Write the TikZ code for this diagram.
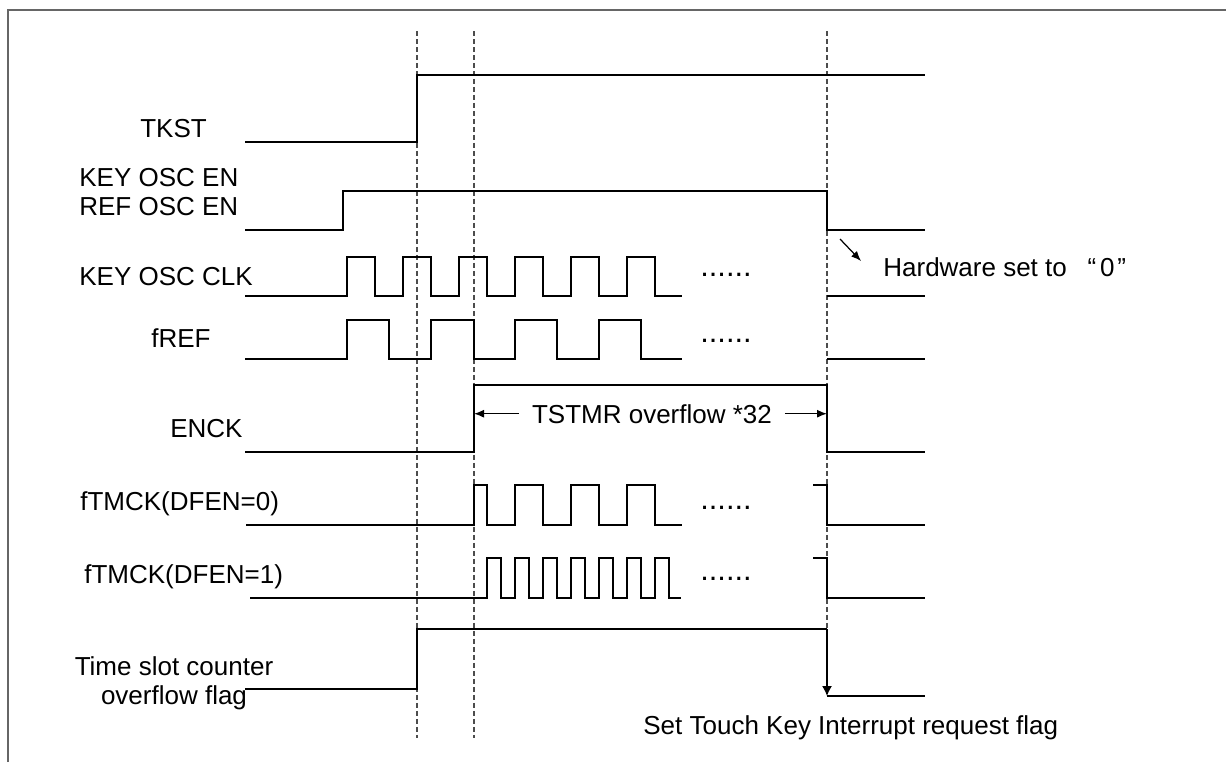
\documentclass[tikz,border=0pt]{standalone}
\usepackage{fontspec}
\setmainfont{Liberation Sans}
\usetikzlibrary{arrows.meta}
\tikzset{
  wave/.style={line width=0.8pt},
  guide/.style={line width=0.6pt, black!70, dash pattern=on 0.1cm off 0.06cm},
  frame/.style={line width=1.1pt, black!60},
  lbl/.style={inner sep=0pt, font=\fontsize{14.8}{16.5}\selectfont},
  dotsl/.style={inner sep=0pt, font=\fontsize{17.5}{20}\selectfont},
  arr/.style={line width=0.7pt, -{Latex[length=0.2cm,width=0.16cm]}},
}
\begin{document}
\begin{tikzpicture}[x=0.02cm,y=-0.02cm]
\useasboundingbox (0,0) rectangle (1226,762);
%边框
\draw[frame] (8,762)--(8,10)--(1226,10);
%虚线
\draw[guide] (417,31)--(417,738);
\draw[guide] (474,31)--(474,738);
\draw[guide] (827,31)--(827,690);
%信号名
\node[lbl,anchor=base west] (tkst) at (140,137) {TKST};
\node[lbl,anchor=north west,align=left] (oscen) at (79,168) {KEY OSC EN\\REF OSC EN};
\node[lbl,anchor=base west] (oscclk) at (79,285) {KEY OSC CLK};
\node[lbl,anchor=base west] (fref) at (151,347) {fREF};
\node[lbl,anchor=base west] (enck) at (170,437) {ENCK};
\node[lbl,anchor=base west] (tmck0) at (80,510) {fTMCK(DFEN=0)};
\node[lbl,anchor=base west] (tmck1) at (84,583) {fTMCK(DFEN=1)};
\node[lbl,anchor=north,align=center] (tsflag) at (174,656) {Time slot counter\\overflow flag};
%波形
\draw[wave] (245,142)--(417,142)--(417,75)--(925,75);
\draw[wave] (245,230)--(343,230)--(343,191)--(827,191)--(827,230)--(925,230);
\draw[wave] (245,296)--(347,296)--(347,257)--(375,257)--(375,296)--(403,296)--(403,257)--(431,257)--(431,296)
  --(459,296)--(459,257)--(487,257)--(487,296)--(515,296)--(515,257)--(543,257)--(543,296)
  --(571,296)--(571,257)--(599,257)--(599,296)--(627,296)--(627,257)--(655,257)--(655,296)--(682,296);
\draw[wave] (827,296)--(925,296);
\draw[wave] (245,359)--(347,359)--(347,320)--(389,320)--(389,359)--(431,359)--(431,320)--(474,320)--(474,359)
  --(515,359)--(515,320)--(557,320)--(557,359)--(599,359)--(599,320)--(641,320)--(641,359)--(682,359);
\draw[wave] (827,359)--(925,359);
\draw[wave] (245,452)--(474,452)--(474,385)--(827,385)--(827,452)--(925,452);
\draw[wave] (246,525)--(474,525)--(474,485)--(487,485)--(487,525)--(515,525)--(515,485)--(543,485)--(543,525)
  --(571,525)--(571,485)--(599,485)--(599,525)--(627,525)--(627,485)--(655,485)--(655,525)--(682,525);
\draw[wave] (813,485)--(827,485)--(827,525)--(925,525);
\draw[wave] (250,598)--(487,598)--(487,558)--(501,558)--(501,598)--(515,598)--(515,558)--(529,558)--(529,598)
  --(543,598)--(543,558)--(557,558)--(557,598)--(571,598)--(571,558)--(585,558)--(585,598)
  --(599,598)--(599,558)--(613,558)--(613,598)--(627,598)--(627,558)--(641,558)--(641,598)
  --(655,598)--(655,558)--(669,558)--(669,598)--(681,598);
\draw[wave] (813,558)--(827,558)--(827,598)--(925,598);
\draw[wave] (245,689)--(417,689)--(417,629)--(827,629);
\draw[wave] (827,696)--(925,696);
%省略号
\node[dotsl,anchor=base west] (dots1) at (700,276) {......};
\node[dotsl,anchor=base west] (dots2) at (700,342) {......};
\node[dotsl,anchor=base west] (dots3) at (700,509) {......};
\node[dotsl,anchor=base west] (dots4) at (700,580) {......};
%标注
\coordinate (enckup) at (474,385);
\coordinate (enckdn) at (827,385);
\node[lbl,anchor=base,inner xsep=0.25cm] (tstmr) at (652,423) {TSTMR overflow *32};
\draw[arr] (tstmr.west)--(tstmr.west-|enckup);
\draw[arr] (tstmr.east)--(tstmr.east-|enckdn);
\coordinate (hwtail) at (840,239);
\coordinate (hwhead) at (861,261);
\draw[arr] (hwtail)--(hwhead);
\node[lbl,anchor=base west] (hw) at (883,276) {Hardware set to\hspace{0.8em}“\kern0.15em 0\kern0.1em”};
\coordinate (tsfall) at (827,629);
\coordinate (tsend) at (827,696);
\draw[wave,-{Latex[length=0.2cm,width=0.2cm]}] (tsfall)--(tsend);
\node[lbl,anchor=base west] (settk) at (643,734) {Set Touch Key Interrupt request flag};
\end{tikzpicture}
\end{document}
